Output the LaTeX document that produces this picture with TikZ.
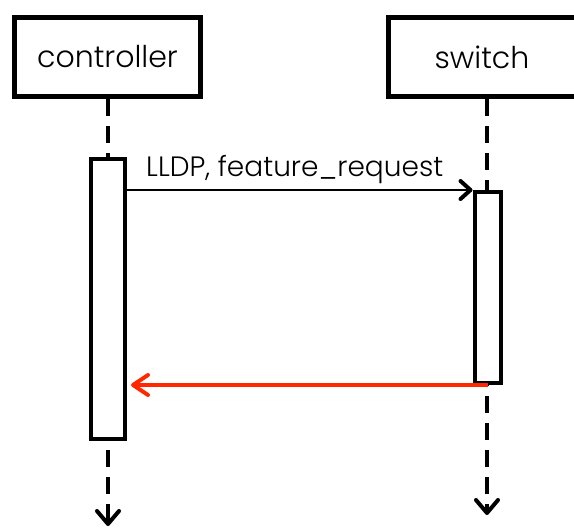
\documentclass[tikz,border=0pt]{standalone}
\usepackage{fontspec}
\setmainfont{Poppins Light}
\usetikzlibrary{arrows.meta}
\definecolor{replyred}{RGB}{255,40,0}
\begin{document}
\begin{tikzpicture}[x=1pt,y=-1pt,
  objbox/.style={draw, line width=5pt, fill=white, minimum height=79pt,
    inner sep=0pt, font=\fontsize{30}{36}\selectfont},
  actbar/.style={draw, line width=4pt, fill=white, inner sep=0pt},
  lifeline/.style={line width=4pt, dash pattern=on 17pt off 10pt,
    -{Straight Barb[length=13pt,width=22pt,line width=4pt,round]}},
  msg/.style={line width=1.5pt,
    -{Straight Barb[length=10pt,width=18pt,line width=4pt,round]}},
  reply/.style={line width=3.5pt, replyred,
    -{Straight Barb[length=15pt,width=20pt,line width=4pt,round]}},
  msglabel/.style={font=\fontsize{28}{34}\selectfont, inner sep=0pt}
]
\useasboundingbox (0,0) rectangle (574,530);
\clip (0,0) rectangle (574,530);

% participants
\node[objbox, minimum width=186pt] (ctl) at (107.5,57) {controller};
\node[objbox, minimum width=188pt] (sw) at (482,57) {switch};

% lifeline ends
\coordinate (ctlend) at (108,526);
\coordinate (swend) at (487,515);

% lifelines
\draw[lifeline] (ctl.south -| ctlend) -- (ctlend);
\draw[lifeline] (sw.south -| swend) -- (swend);

% activation bars
\node[actbar, minimum width=34pt, minimum height=280pt] (cbar) at (108,299) {};
\node[actbar, minimum width=26pt, minimum height=191pt] (sbar) at (487.5,287.5) {};

% messages
\draw[msg] (cbar.east |- sbar.north west) -- node[msglabel, above=6pt, xshift=-5pt] (m1) {LLDP, feature\_request} (sbar.north west);
\draw[reply, shorten >=4pt] (sbar.south) -- (cbar.east |- sbar.south);

% boxes drawn again on top of the lifeline starts
\node[objbox, minimum width=186pt] at (ctl) {controller};
\node[objbox, minimum width=188pt] at (sw) {switch};
\end{tikzpicture}
\end{document}
